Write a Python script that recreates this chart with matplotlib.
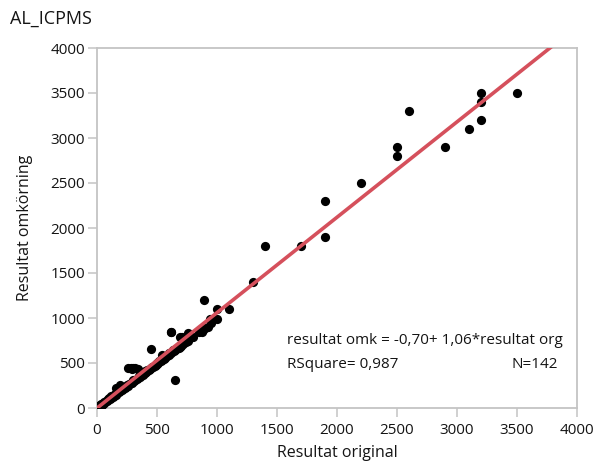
import numpy as np
import matplotlib
matplotlib.use("Agg")
import matplotlib.pyplot as plt

plt.rcParams['font.family'] = ['Open Sans', 'DejaVu Sans']

title = "AL_ICPMS"
x_label = "Resultat original"
y_label = "Resultat omkörning"

# Fit: resultat omk = intercept + slope * resultat org
intercept = -0.70
slope = 1.06
rsquare = "0,987"
n_obs = 142

# Low-range results (original, rerun)
low_org = [10, 15, 20, 25, 30, 35, 40, 45, 50, 55, 60, 60, 70, 75, 80, 90, 95, 100, 100, 110,
           120, 120, 130, 140, 140, 150, 150, 160, 170, 175, 180, 190, 200, 200, 210, 220, 230,
           240, 250, 250, 260, 270, 280, 290, 300, 300, 310, 320, 330, 340, 350, 350, 360, 370,
           380, 390, 400, 400, 410, 420, 430, 440, 450, 460, 470, 480, 490, 500, 500, 510, 520,
           530, 540, 550, 560, 570, 580, 600, 600, 620, 640, 650, 660, 680, 700, 700, 720, 740,
           750, 760, 780, 800, 850, 900, 950, 160, 190]
low_omk = [12, 10, 18, 30, 28, 40, 38, 50, 48, 52, 55, 65, 68, 80, 78, 85, 100, 98, 110, 105,
           115, 130, 125, 135, 150, 145, 160, 150, 165, 185, 175, 185, 195, 210, 200, 215, 225,
           235, 240, 260, 250, 265, 275, 280, 295, 310, 300, 315, 320, 335, 340, 360, 350, 365,
           370, 385, 390, 410, 400, 410, 425, 430, 440, 455, 460, 470, 480, 500, 490, 500, 520,
           520, 530, 545, 550, 560, 575, 590, 610, 610, 630, 640, 660, 670, 690, 700, 710, 730,
           760, 750, 790, 790, 840, 890, 940, 220, 260]

# Raised group around 300
raised_org = [260, 280, 300, 320, 340, 290]
raised_omk = [440, 450, 450, 440, 430, 430]

# Mid-range results
mid_org = [414, 450, 540, 614, 620, 650, 636, 692, 692, 706, 719, 761, 872, 880, 890, 928,
           940, 1000, 1000, 1100, 1300]
mid_omk = [422, 660, 590, 850, 850, 310, 644, 681, 790, 789, 756, 830, 848, 870, 1200, 903,
           985, 985, 1100, 1100, 1400]

# High-range results
high_org = [1400, 1700, 1900, 1900, 2200, 2500, 2500, 2600, 2900, 3100, 3200, 3200, 3200, 3500]
high_omk = [1800, 1800, 1900, 2300, 2500, 2800, 2900, 3300, 2900, 3100, 3200, 3400, 3500, 3500]

x_ticks = [0, 500, 1000, 1500, 2000, 2500, 3000, 3500, 4000]
y_ticks = [0, 500, 1000, 1500, 2000, 2500, 3000, 3500, 4000]

org = np.array(low_org + raised_org + mid_org + high_org, dtype=float)
omk = np.array(low_omk + raised_omk + mid_omk + high_omk, dtype=float)

W, H = 596, 468
fig = plt.figure(figsize=(W / 100, H / 100), dpi=100)
ax = fig.add_axes([97 / W, 1 - 408 / H, 480 / W, 360 / H])

grey = '#c4c4c4'
ink = '#141414'
ax.scatter(org, omk, s=44, color='black', zorder=3, linewidths=0)

xf = np.array([0, 4000.0])
ax.plot(xf, intercept + slope * xf, color='#d5505c', lw=2.6, zorder=4, solid_capstyle='butt')

ax.set_xlim(0, 4000)
ax.set_ylim(0, 4000)
ax.set_xticks(x_ticks)
ax.set_yticks(y_ticks)
ax.set_xticklabels([str(v) for v in x_ticks])
ax.set_yticklabels([str(v) for v in y_ticks])
for s in ax.spines.values():
    s.set_color(grey)
    s.set_linewidth(1.3)
ax.tick_params(axis='both', colors=grey, length=6.5, width=1.1, labelsize=11,
               labelcolor=ink)
ax.tick_params(axis='x', pad=4)
ax.tick_params(axis='y', pad=2)

ax.set_xlabel(x_label, fontsize=11.5, color=ink)
ax.set_ylabel(y_label, fontsize=11.5, color=ink)
ax.xaxis.set_label_coords(0.5, -(453 - 408) / 360, transform=ax.transAxes)
ax.yaxis.set_label_coords(-(97 - 25) / 480, 0.5, transform=ax.transAxes)
ax.xaxis.label.set_va('center')
ax.yaxis.label.set_va('center')

fig.text(10 / W, 1 - 19 / H, title, fontsize=13, color=ink, va='center', ha='left')

eq = f"resultat omk = {intercept:.2f}+ {slope:.2f}*resultat org".replace('.', ',')
fig.text(287 / W, 1 - 340 / H, eq, fontsize=11, color=ink, va='center', ha='left')
fig.text(287 / W, 1 - 365 / H, f"RSquare= {rsquare}", fontsize=11, color=ink,
         va='center', ha='left')
fig.text(558 / W, 1 - 365 / H, f"N={n_obs}", fontsize=11, color=ink,
         va='center', ha='right')

fig.savefig('out.png', dpi=100)
